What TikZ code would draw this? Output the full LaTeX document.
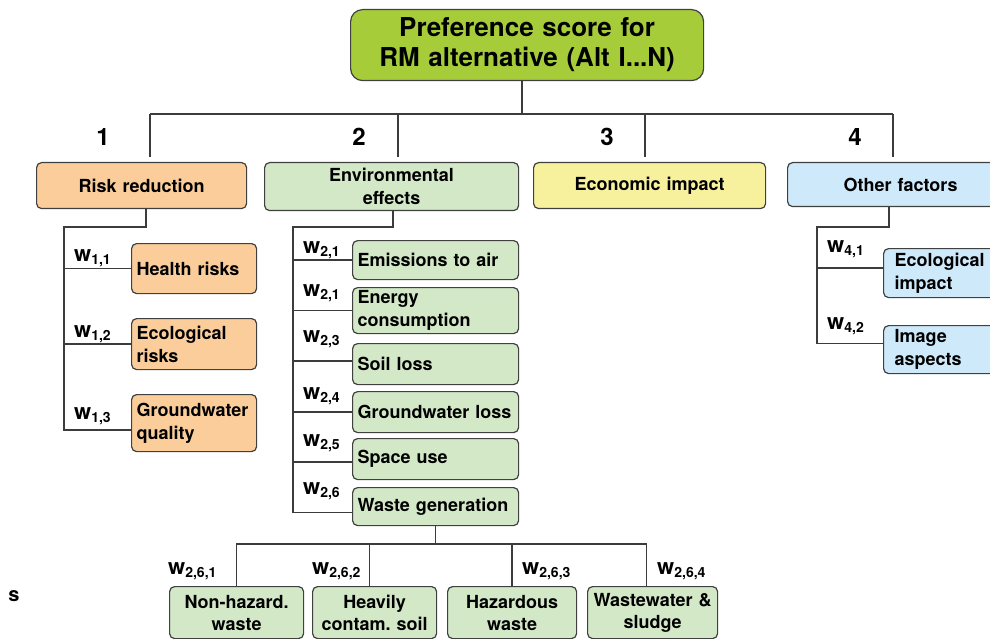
\documentclass[tikz,border=0pt]{standalone}
\usepackage{fontspec}
\setmainfont{TeX Gyre Heros}
\definecolor{topg}{RGB}{166,204,58}
\definecolor{orangebox}{RGB}{250,205,155}
\definecolor{greenbox}{RGB}{211,232,199}
\definecolor{yellowbox}{RGB}{247,241,158}
\definecolor{bluebox}{RGB}{206,234,250}
\definecolor{bordc}{RGB}{64,64,64}
\definecolor{linec}{RGB}{60,60,60}
\newcommand\wlab[1]{{\fontsize{22}{22}\selectfont w}\raisebox{-3.5pt}{\fontsize{14}{14}\selectfont #1}}
\tikzset{
  bx/.style={draw=bordc, line width=1.2pt, rounded corners=5pt, inner xsep=5pt, inner ysep=0pt,
    font=\bfseries\fontsize{18}{23}\selectfont, anchor=north west},
  ln/.style={draw=linec, line width=1.4pt},
  num/.style={font=\bfseries\fontsize{24}{24}\selectfont, inner sep=0pt},
  wl/.style={font=\bfseries, anchor=base west, inner sep=0pt},
}
\frenchspacing
\begin{document}
\begin{tikzpicture}[x=1pt,y=-1pt]
\clip (0,0) rectangle (990,639);
\fill[white] (0,0) rectangle (990,639);

% top
\node[bx, fill=topg, rounded corners=12pt, minimum width=353pt, minimum height=71pt, text width=340pt,
  align=center, font=\bfseries\fontsize{26}{30}\selectfont] (top) at (350,9) {Preference score for\\RM alternative (Alt I...N)};

% level 1
\node[bx, fill=orangebox, minimum width=210pt, minimum height=46pt, text width=200pt, align=center] (rr) at (36,162) {Risk reduction};
\node[bx, fill=greenbox, minimum width=254pt, minimum height=48pt, text width=244pt, align=center] (env) at (264,162) {Environmental\\effects};
\node[bx, fill=yellowbox, minimum width=232pt, minimum height=46pt, text width=222pt, align=center] (eco) at (533,162) {Economic impact};
\node[bx, fill=bluebox, minimum width=226pt, minimum height=44pt, text width=216pt, align=center] (oth) at (787,162) {Other factors};

% numbers
\node[num] (n1lab) at (103,137) {1};
\node[num] (n2lab) at (359,137) {2};
\node[num] (n3lab) at (607,137) {3};
\node[num] (n4lab) at (855,137) {4};

% risk subtree
\node[bx, fill=orangebox, minimum width=125pt, minimum height=50pt, text width=115pt, align=left] (hr) at (131,243) {Health risks};
\node[bx, fill=orangebox, minimum width=125pt, minimum height=51pt, text width=115pt, align=left] (er) at (131,318) {Ecological\\risks};
\node[bx, fill=orangebox, minimum width=125pt, minimum height=57pt, text width=115pt, align=left] (gq) at (131,394) {Groundwater\\quality};

% env subtree
\node[bx, fill=greenbox, minimum width=166pt, minimum height=39pt, text width=156pt, align=left] (ea) at (352,240) {Emissions to air};
\node[bx, fill=greenbox, minimum width=166pt, minimum height=46pt, text width=156pt, align=left] (ec) at (352,287) {Energy\\consumption};
\node[bx, fill=greenbox, minimum width=166pt, minimum height=41pt, text width=156pt, align=left] (sl) at (352,343) {Soil loss};
\node[bx, fill=greenbox, minimum width=166pt, minimum height=41pt, text width=156pt, align=left] (gl) at (352,391) {Groundwater loss};
\node[bx, fill=greenbox, minimum width=166pt, minimum height=41pt, text width=156pt, align=left] (su) at (352,438) {Space use};
\node[bx, fill=greenbox, minimum width=166pt, minimum height=38pt, text width=156pt, align=left] (wg) at (352,487) {Waste generation};

% other subtree
\node[bx, fill=bluebox, inner xsep=11pt, minimum width=130pt, minimum height=49pt, text width=108pt, align=left] (eci) at (883,248) {Ecological\\impact};
\node[bx, fill=bluebox, inner xsep=11pt, minimum width=130pt, minimum height=48pt, text width=108pt, align=left] (img) at (883,325) {Image\\aspects};

% waste subtree
\node[bx, fill=greenbox, minimum width=134pt, minimum height=52pt, text width=124pt, align=center, font=\bfseries\fontsize{18}{22}\selectfont] (wa) at (169,586) {Non-hazard.\\waste};
\node[bx, fill=greenbox, minimum width=124pt, minimum height=52pt, text width=116pt, inner xsep=4pt, align=center, font=\bfseries\fontsize{18}{22}\selectfont] (wb) at (312,586) {Heavily\\contam. soil};
\node[bx, fill=greenbox, minimum width=129pt, minimum height=52pt, text width=119pt, align=center, font=\bfseries\fontsize{18}{22}\selectfont] (wc) at (447,586) {Hazardous\\waste};
\node[bx, fill=greenbox, minimum width=130pt, minimum height=52pt, text width=122pt, inner xsep=4pt, align=center, font=\bfseries\fontsize{18}{22}\selectfont] (wd) at (587,586) {Wastewater \&\\sludge};

% weight labels
\node[wl] (w11) at (74,261) {\wlab{1,1}};
\node[wl] (w12) at (74,337) {\wlab{1,2}};
\node[wl] (w13) at (74,419) {\wlab{1,3}};
\node[wl] (w21) at (303,253) {\wlab{2,1}};
\node[wl] (w21b) at (303,296) {\wlab{2,1}};
\node[wl] (w23) at (303,342) {\wlab{2,3}};
\node[wl] (w24) at (303,399) {\wlab{2,4}};
\node[wl] (w25) at (303,446) {\wlab{2,5}};
\node[wl] (w26) at (303,494) {\wlab{2,6}};
\node[wl] (w41) at (827,252) {\wlab{4,1}};
\node[wl] (w42) at (827,329) {\wlab{4,2}};
\node[wl] (w261) at (168,574) {\wlab{2,6,1}};
\node[wl] (w262) at (312,574) {\wlab{2,6,2}};
\node[wl] (w263) at (522,574) {\wlab{2,6,3}};
\node[wl] (w264) at (657,574) {\wlab{2,6,4}};

% stray glyph
\node[font=\bfseries\fontsize{20}{20}\selectfont, inner sep=0pt] (stray) at (14,596) {s};

% top connectors
\coordinate (tb) at (522,114);
\coordinate (b1) at (150,114);
\coordinate (b2) at (398,114);
\coordinate (b3) at (645,114);
\coordinate (b4) at (893,114);
\draw[ln] (top.south -| tb) -- (tb);
\draw[ln] (b1) -- (b4);
\draw[ln] (b1) -- ([yshift=5pt]rr.north -| b1);
\draw[ln] (b2) -- ([yshift=5pt]env.north -| b2);
\draw[ln] (b3) -- ([yshift=5pt]eco.north -| b3);
\draw[ln] (b4) -- ([yshift=5pt]oth.north -| b4);

% risk connectors
\coordinate (r0) at (146,227);
\coordinate (r1) at (64,227);
\coordinate (gqb) at ([yshift=-7pt]gq.west);
\draw[ln] (rr.south -| r0) -- (r0) -- (r1) |- (gqb);
\draw[ln] (r1 |- hr.west) -- (hr.west);
\draw[ln] (r1 |- er.west) -- (er.west);

% env connectors
\coordinate (e0) at (393,227);
\coordinate (e1) at (293,227);
\coordinate (wgb) at ([yshift=-6pt]wg.west);
\coordinate (slb) at ([yshift=3pt]sl.west);
\coordinate (sub) at ([yshift=-3pt]su.west);
\draw[ln] (env.south -| e0) -- (e0) -- (e1) |- (wgb);
\draw[ln] (e1 |- ea.west) -- (ea.west);
\draw[ln] (e1 |- ec.west) -- (ec.west);
\draw[ln] (e1 |- slb) -- (slb);
\draw[ln] (e1 |- gl.west) -- (gl.west);
\draw[ln] (e1 |- sub) -- (sub);

% other connectors
\coordinate (o0) at (889,227);
\coordinate (o1) at (817,227);
\coordinate (ecib) at ([yshift=5pt]eci.west);
\coordinate (imgb) at ([yshift=6pt]img.west);
\draw[ln] (oth.south -| o0) -- (o0) -- (o1) |- (imgb);
\draw[ln] (o1 |- ecib) -- (ecib);

% waste connectors
\coordinate (bus) at (0,544);
\coordinate (wbt) at ([xshift=-5pt]wb.north);
\coordinate (wdt) at ([xshift=-6pt]wd.north);
\draw[ln] (wg.south) -- (wg.south |- bus);
\draw[ln] (wa.north) -- (wa.north |- bus) -- (wdt |- bus) -- (wdt);
\draw[ln] (wbt) -- (wbt |- bus);
\draw[ln] (wc.north) -- (wc.north |- bus);
\end{tikzpicture}
\end{document}
